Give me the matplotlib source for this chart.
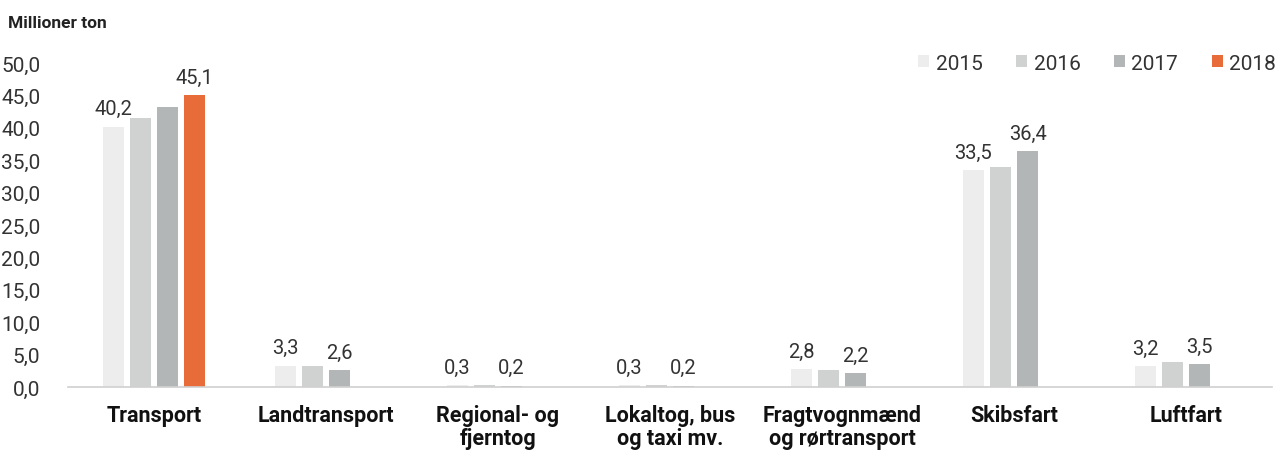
import numpy as np
import matplotlib.pyplot as plt

categories = ["Transport", "Landtransport", "Regional- og\nfjerntog", "Lokaltog, bus\nog taxi mv.",
              "Fragtvognmænd\nog rørtransport", "Skibsfart", "Luftfart"]
years = ["2015", "2016", "2017", "2018"]
v2015 = [40.2, 3.3, 0.3, 0.3, 2.8, 33.5, 3.2]
v2016 = [41.5, 3.2, 0.3, 0.3, 2.7, 33.9, 3.8]
v2017 = [43.2, 2.6, 0.2, 0.2, 2.2, 36.4, 3.5]
v2018 = [45.1, None, None, None, None, None, None]
colors = ["#EDEDED", "#D0D2D2", "#B3B6B6", "#E86C3A"]

plt.rcParams['font.family'] = ['Roboto', 'DejaVu Sans']

fig = plt.figure(figsize=(12.78, 4.52), dpi=100)
ax = fig.add_axes([68/1278, (452-388)/452, 1204/1278, 324/452])

x = np.arange(len(categories))
w = 0.122
step = 0.157
series = [v2015, v2016, v2017, v2018]
offsets = [-1.5, -0.5, 0.5, 1.5]
for s, vals in enumerate(series):
    xs = [x[i] + offsets[s]*step for i in range(len(vals)) if vals[i] is not None]
    hs = [v for v in vals if v is not None]
    ax.bar(xs, hs, width=w, color=colors[s], label=years[s], zorder=2)

def lab(xv, h):
    ax.annotate(f"{h:.1f}".replace('.', ','), (xv, h), xytext=(0, 6), textcoords='offset points',
                ha='center', va='bottom', fontsize=14.5, color='#333333')

# value labels: 2015 everywhere, 2017 where no 2018, 2018 for Transport
for i in range(len(categories)):
    lab(x[i] + offsets[0]*step, v2015[i])
    if v2018[i] is not None:
        lab(x[i] + offsets[3]*step, v2018[i])
    else:
        lab(x[i] + offsets[2]*step, v2017[i])

ax.set_xlim(-0.5, len(categories) - 0.5)
ax.set_ylim(0, 50)
ax.set_yticks(np.arange(0, 51, 5))
ax.set_yticklabels([f"{t:.1f}".replace('.', ',') for t in np.arange(0, 51, 5)])
ax.set_xticks(x)
ax.set_xticklabels(categories, fontweight='bold', fontsize=15.5, linespacing=1.08)
ax.tick_params(axis='x', length=0, pad=12, colors='#111111')
ax.tick_params(axis='y', length=0, pad=20, labelsize=15, labelcolor='#333333')
for sp in ['top', 'right', 'left']:
    ax.spines[sp].set_visible(False)
ax.spines['bottom'].set_color('#D0D0D0')
ax.spines['bottom'].set_linewidth(1.2)

fig.text(8/1278, 1 - 24/452, "Millioner ton", fontsize=12.5, fontweight='bold', va='center', color='#222222')

leg = ax.legend(loc='center right', bbox_to_anchor=(1276/1204 - 68/1204, 1.0), ncol=4, frameon=False,
                fontsize=15, handlelength=0.55, handleheight=0.55, handletextpad=0.3, columnspacing=1.6,
                borderaxespad=0, borderpad=0)
for t in leg.get_texts():
    t.set_color('#333333')

fig.savefig("out.png", dpi=100)
